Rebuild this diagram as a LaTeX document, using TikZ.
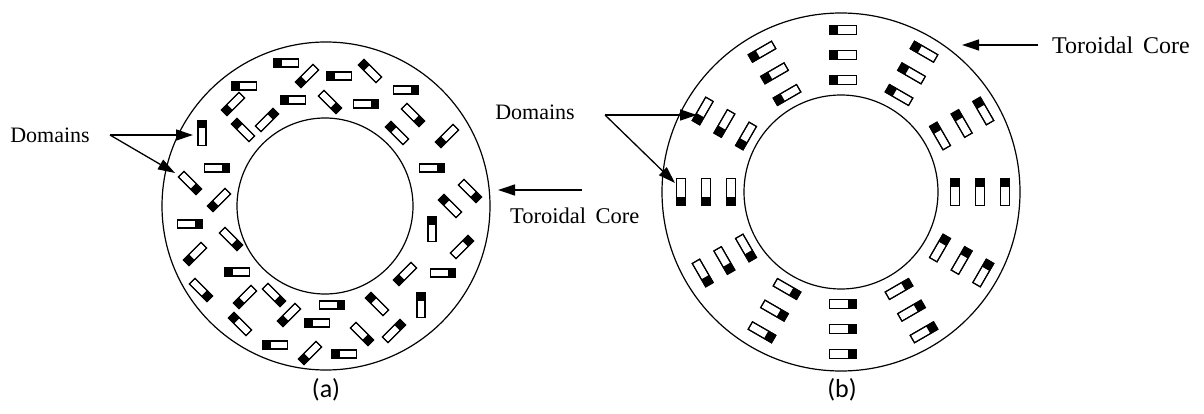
\documentclass[tikz,border=0pt]{standalone}
\usepackage{fontspec}
\setmainfont{Liberation Serif}
\newfontfamily\capfont{Carlito}
\usetikzlibrary{arrows.meta,calc}
\begin{document}
\begin{tikzpicture}[x=1pt,y=1pt,
  ring/.style={line width=1.2pt},
  lbl/.style={font=\fontsize{22}{26}\selectfont, inner sep=0pt},
  subcap/.style={font=\capfont\fontsize{26}{30}\selectfont, inner sep=0pt},
  pointer/.style={line width=1.3pt, -{Triangle[length=17pt,width=11pt]}},
  domain/.pic={
    \filldraw[fill=white, line width=1.1pt] (-12.5,-4) rectangle (12.5,4);
    \fill (4.5,-4) rectangle (12.5,4);
    \draw[line width=1.1pt] (-12.5,-4) rectangle (12.5,4);
  },
]
\useasboundingbox (0,0) rectangle (1204,-414);

% ---- (a) randomly oriented domains ----
\draw[ring] (326,-206) circle (164);
\draw[ring] (325,-206) circle (88);
\foreach \x/\y/\a in {
  286/63/180, 307/76/225, 244/86/180, 233/104/225, 293/100/180,
  330/102/-45, 243/130/135, 267/120/45, 202/133/90, 217/168/0,
  190/183/-45, 219/200/225, 339/76/180, 370/71/135, 406/90/0,
  366/104/0, 413/115/-45, 397/133/135, 447/136/225, 432/168/0,
  470/191/-45, 450/206/135, 432/229/90, 462/247/45, 443/273/0,
  405/274/225, 421/305/90, 377/304/135, 332/305/0, 394/331/45,
  362/334/-45, 344/354/180, 317/323/180, 289/315/225, 274/295/-45,
  245/297/225, 237/272/180, 240/324/135, 275/345/180, 310/353/225,
  201/290/-45, 195/254/225, 231/239/-45, 190/224/0}
  \pic[rotate=\a] at (\x,-\y) {domain};

\node[lbl] (domA) at (50,-135) {Domains};
\coordinate (forkA) at (110,-135);
\coordinate (tipA1) at (193,-135);
\coordinate (tipA2) at (175,-173);
\draw[pointer] (forkA) -- (tipA1);
\draw[pointer] (forkA) -- (tipA2);

\node[lbl, anchor=west, font=\fontsize{22.5}{26}\selectfont] (coreA) at (510,-216) {Toroidal\hspace{4pt} Core};
\coordinate (tailA) at (582,-190);
\coordinate (headA) at (498,-190);
\draw[pointer] (tailA) -- (headA);

\node[subcap] (capA) at (326,-390) {(a)};

% ---- (b) aligned domains in twelve groups ----
\draw[ring] (841,-192) circle (179);
\draw[ring] (841,-192) circle (97);
\foreach \p in {0,30,...,330}
  \foreach \r in {112,137,162}
    \pic[rotate=\p+90, scale=1.08] at ($(843,-192)+(\p:\r)$) {domain};

\node[lbl] (domB) at (535,-112) {Domains};
\coordinate (forkB) at (605,-115);
\coordinate (tipB1) at (697,-115);
\coordinate (tipB2) at (675,-183);
\draw[pointer] (forkB) -- (tipB1);
\draw[pointer] (forkB) -- (tipB2);

\node[lbl, anchor=west, font=\fontsize{24}{28}\selectfont] (coreB) at (1052,-45) {Toroidal\hspace{4pt} Core};
\coordinate (tailB) at (1038,-45);
\coordinate (headB) at (962,-45);
\draw[pointer] (tailB) -- (headB);

\node[subcap] (capB) at (842,-390) {(b)};
\end{tikzpicture}
\end{document}
